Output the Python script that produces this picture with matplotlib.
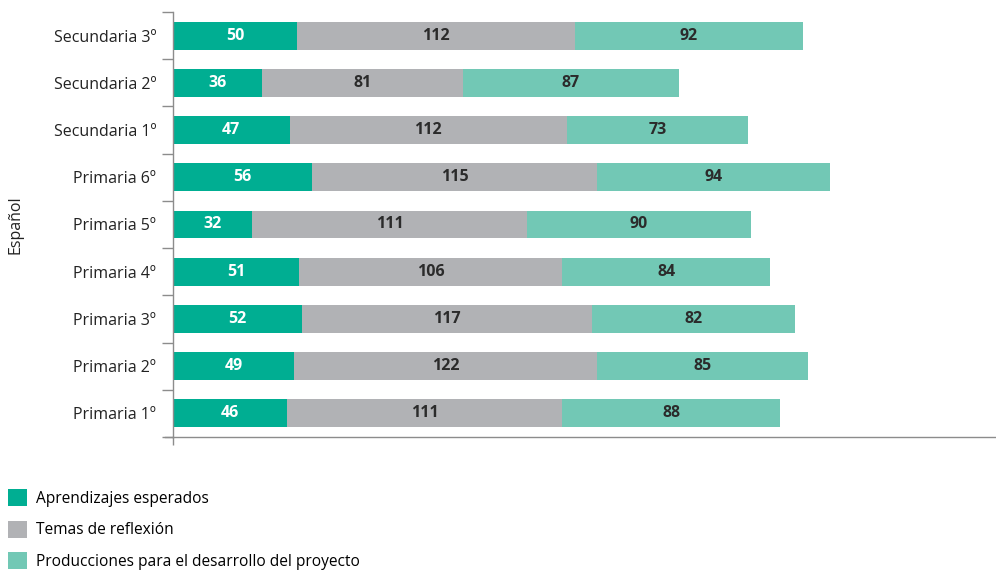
import numpy as np
import matplotlib
matplotlib.use("Agg")
import matplotlib.pyplot as plt
from matplotlib.patches import Patch

plt.rcParams['font.family'] = ['Open Sans', 'DejaVu Sans']

grados = ['Primaria 1º', 'Primaria 2º', 'Primaria 3º', 'Primaria 4º', 'Primaria 5º',
          'Primaria 6º', 'Secundaria 1º', 'Secundaria 2º', 'Secundaria 3º']
aprendizajes = [46, 49, 52, 51, 32, 56, 47, 36, 50]
temas = [111, 122, 117, 106, 111, 115, 112, 81, 112]
producciones = [88, 85, 82, 84, 90, 94, 73, 87, 92]
series_names = ['Aprendizajes esperados', 'Temas de reflexión',
                'Producciones para el desarrollo del proyecto']

colors = ['#00AE92', '#B1B2B5', '#72C8B5']
text_colors = ['white', '#2b2b2b', '#2b2b2b']
axis_gray = '#8c8c8c'

fig = plt.figure(figsize=(9.96, 5.71), dpi=100)
ax = fig.add_axes([0.1737, 0.2347, 0.8263, 0.7443])

y = np.arange(len(grados))
left = np.zeros(len(grados))
for vals, c, tc in zip([aprendizajes, temas, producciones], colors, text_colors):
    vals = np.array(vals)
    ax.barh(y, vals, left=left, height=0.59, color=c)
    for yi, l, v in zip(y, left, vals):
        ax.text(l + v / 2, yi, str(v), ha='center', va='center',
                color=tc, fontsize=11.5, fontweight='bold')
    left += vals

ax.set_xlim(0, 332)
ax.set_ylim(-0.5, len(grados) - 0.5)

ax.set_yticks(y)
ax.set_yticklabels(grados, fontsize=11.5, color='#222222')
ax.tick_params(axis='y', which='major', length=0, pad=12)
ax.set_yticks(np.arange(-0.5, len(grados), 1), minor=True)
ax.tick_params(axis='y', which='minor', length=8, color=axis_gray, width=1)

ax.set_xticks([0])
ax.set_xticklabels([''])
ax.tick_params(axis='x', length=6, color=axis_gray, width=1)

for s in ['top', 'right']:
    ax.spines[s].set_visible(False)
for s in ['left', 'bottom']:
    ax.spines[s].set_color(axis_gray)
    ax.spines[s].set_linewidth(1)
# bottom line runs a little past the left spine
ax.plot([-3.2, 0], [-0.5, -0.5], color=axis_gray, lw=1, clip_on=False)

fig.text(0.016, 0.606, 'Español', rotation=90, ha='center', va='center',
         fontsize=11.5, color='#222222')

handles = [Patch(facecolor=c, edgecolor='none') for c in colors]
fig.legend(handles, series_names, loc='lower left', bbox_to_anchor=(-0.003, -0.017),
           frameon=False, fontsize=11.2, handlelength=1.25, handleheight=1.3,
           handletextpad=0.55, labelspacing=0.88, borderaxespad=0.3)

fig.savefig('out.png', dpi=100)
